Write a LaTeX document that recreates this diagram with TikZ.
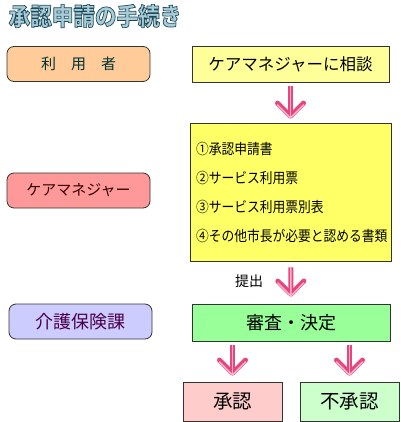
\documentclass[tikz,border=0pt]{standalone}
\usepackage{fontspec}
\usetikzlibrary{arrows.meta}
\newfontfamily\jp{Noto Sans CJK JP}
\newfontfamily\jpnarrow[FakeStretch=0.88]{Noto Sans CJK JP}
\definecolor{titlefill}{HTML}{A8CCD8}
\definecolor{peach}{HTML}{FFCC99}
\definecolor{salmon}{HTML}{FF9999}
\definecolor{lavender}{HTML}{CCCCFF}
\definecolor{paleyellow}{HTML}{FFFF99}
\definecolor{listyellow}{HTML}{FFFF66}
\definecolor{mintgreen}{HTML}{99FF99}
\definecolor{palepink}{HTML}{FFCCCC}
\definecolor{palegreen}{HTML}{CCFFCC}
\definecolor{arrowpink}{HTML}{E8457A}
\definecolor{arrowhi}{HTML}{FFB3CC}
% Umriss fuer den Titel (Textmodus 2 = fuellen und umranden)
\newcommand{\outlinetext}[1]{\special{pdf:literal 0.12 0.29 0.35 RG 0.7 w 2 Tr}#1\special{pdf:literal 0 Tr}}
\tikzset{
  sidebox/.style={draw=black!80, line width=0.8pt, rounded corners=7pt,
    minimum width=143pt, minimum height=35pt},
  flowbox/.style={draw=black!80, line width=0.8pt, text=black},
  barb/.style={-{Straight Barb[length=13pt, width=26pt, round]}},
  pinkarrow/.style={draw=arrowpink, line width=5pt, barb,
    postaction={draw=arrowhi, line width=1.4pt, barb}}
}
\begin{document}
\begin{tikzpicture}[x=1pt, y=-1pt]
    \useasboundingbox (0,0) rectangle (400,422);

    % Titel
    \node[text=titlefill, font=\jpnarrow\bfseries\fontsize{24.5}{27}\selectfont]
      (title) at (95,16) {\outlinetext{承認申請の手続き}};

    % linke Seite
    \node[sidebox, fill=peach, text=teal!40!black, font=\jp\fontsize{15}{18}\selectfont]
      (user) at (78.5,64) {利　用　者};
    \node[sidebox, fill=salmon, text=red!20!black, font=\jp\fontsize{15}{18}\selectfont]
      (cm) at (78.5,190.5) {ケアマネジャー};
    \node[sidebox, fill=lavender, text=violet!60!black, font=\jp\fontsize{18}{20}\selectfont]
      (kaigo) at (80.5,321.5) {介護保険課};

    % Ablauf
    \node[flowbox, fill=paleyellow, minimum width=197pt, minimum height=36pt,
      font=\jp\fontsize{16.5}{19}\selectfont] (sodan) at (290.5,64) {ケアマネジャーに相談};
    \node[flowbox, fill=listyellow, minimum width=201pt, minimum height=138pt,
      inner xsep=6pt, text width=189pt, align=left,
      font=\jpnarrow\fontsize{14.5}{29}\selectfont] (shorui) at (290.5,192)
      {①承認申請書\\②サービス利用票\\③サービス利用票別表\\④その他市長が必要と認める書類};
    \node[flowbox, fill=mintgreen, minimum width=198pt, minimum height=37pt,
      font=\jp\fontsize{18}{20}\selectfont] (kettei) at (291,322.5) {審査・決定};
    \node[flowbox, fill=palepink, minimum width=99pt, minimum height=39pt,
      font=\jp\fontsize{19.5}{22}\selectfont] (shonin) at (232.5,401.5) {承認};
    \node[flowbox, fill=palegreen, minimum width=99pt, minimum height=39pt,
      font=\jp\fontsize{19.5}{22}\selectfont] (fushonin) at (349.5,401.5) {不承認};

    % Pfeile
    \draw[pinkarrow, shorten <=4pt, shorten >=4pt] (sodan) -- (shorui);
    \draw[pinkarrow, shorten <=6pt, shorten >=7pt] (shorui) -- (kettei);
    \draw[pinkarrow, shorten <=4pt, shorten >=6pt] (kettei.south -| shonin) -- (shonin);
    \draw[pinkarrow, shorten <=4pt, shorten >=6pt] (kettei.south -| fushonin) -- (fushonin);
    \node[font=\jp\fontsize{14}{16}\selectfont] (teishutsu) at (249,281) {提出};
\end{tikzpicture}
\end{document}
